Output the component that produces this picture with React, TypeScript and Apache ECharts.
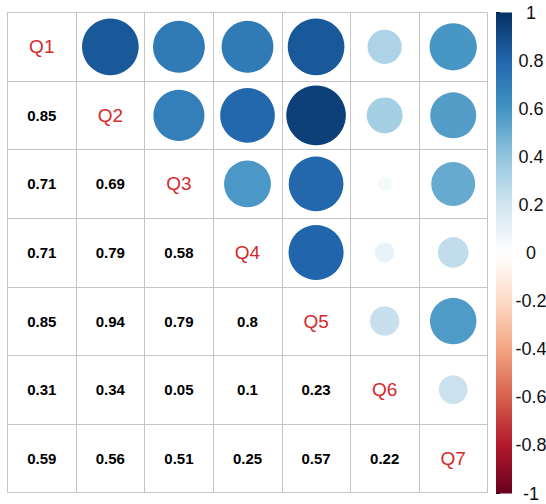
import React, { useEffect, useRef } from "react";
import * as echarts from "echarts";

const labels: string[] = ["Q1", "Q2", "Q3", "Q4", "Q5", "Q6", "Q7"];
// lower-triangle correlation values, row i holds r(Qi, Q1..Q(i-1))
const corrRows: number[][] = [
  [],
  [0.85],
  [0.71, 0.69],
  [0.71, 0.79, 0.58],
  [0.85, 0.94, 0.79, 0.8],
  [0.31, 0.34, 0.05, 0.1, 0.23],
  [0.59, 0.56, 0.51, 0.25, 0.57, 0.22],
];
const colorMin = -1;
const colorMax = 1;
const colorTickStep = 0.2;
const palette: string[] = [
  "#67001F", "#B2182B", "#D6604D", "#F4A582", "#FDDBC7", "#FFFFFF",
  "#D1E5F0", "#92C5DE", "#4393C3", "#2166AC", "#053061",
];

const FONT = 'Arial, "Liberation Sans", sans-serif';

export default function App() {
  const ref = useRef<HTMLDivElement>(null);
  useEffect(() => {
    if (!ref.current) return;
    const chart = echarts.init(ref.current, null, { renderer: "svg" });
    const n = labels.length;
    const circleData: number[][] = [];
    const numberData: number[][] = [];
    const diagData: any[] = [];
    for (let i = 0; i < n; i++) {
      for (let j = 0; j < n; j++) {
        if (j > i) circleData.push([j + 0.5, i + 0.5, corrRows[j][i]]);
        else if (j < i) numberData.push([j + 0.5, i + 0.5, corrRows[i][j]]);
      }
      diagData.push([i + 0.5, i + 0.5, i]);
    }
    const gridLine = { show: true, lineStyle: { color: "#C4C4C4", width: 1 } };
    const hiddenAxis = {
      axisLine: { show: false },
      axisTick: { show: false },
      axisLabel: { show: false },
    };
    const textItem = (text: string, color: string, size: number, weight: string) =>
      (params: any, api: any) => {
        const p = api.coord([api.value(0), api.value(1)]);
        return {
          type: "text",
          x: p[0],
          y: p[1],
          style: {
            text,
            fill: color,
            fontSize: size,
            fontWeight: weight,
            fontFamily: FONT,
            align: "center",
            verticalAlign: "middle",
          },
        };
      };
    // gradient from top (max) to bottom (min), offsets ascending
    const stops = palette
      .slice()
      .reverse()
      .map((c, k) => ({ offset: k / (palette.length - 1), color: c }));
    chart.setOption({
      animation: false,
      backgroundColor: "#ffffff",
      grid: [
        { left: 7.5, top: 12.5, width: 480, height: 480, outerBoundsMode: "none", containLabel: false },
        { left: 496, top: 12.5, width: 16, height: 481, outerBoundsMode: "none", containLabel: false },
      ],
      xAxis: [
        { gridIndex: 0, type: "value", min: 0, max: n, interval: 1, splitLine: gridLine, ...hiddenAxis },
        { gridIndex: 1, type: "value", min: 0, max: 1, splitLine: { show: false }, ...hiddenAxis },
      ],
      yAxis: [
        { gridIndex: 0, type: "value", min: 0, max: n, interval: 1, inverse: true, splitLine: gridLine, ...hiddenAxis },
        {
          gridIndex: 1,
          type: "value",
          min: colorMin,
          max: colorMax,
          interval: colorTickStep,
          position: "right",
          splitLine: { show: false },
          axisLine: { show: true, lineStyle: { color: "#000", width: 1 } },
          axisTick: { show: true, length: 4, lineStyle: { color: "#000", width: 1 } },
          axisLabel: {
            show: true,
            color: "#111",
            fontFamily: FONT,
            fontSize: 18,
            align: "center",
            margin: 19,
            hideOverlap: false,
            formatter: (v: number) => String(Math.round(v * 10) / 10),
          },
        },
      ],
      visualMap: {
        type: "continuous",
        show: false,
        min: colorMin,
        max: colorMax,
        dimension: 2,
        seriesIndex: 0,
        inRange: { color: palette },
      },
      series: [
        {
          type: "scatter",
          xAxisIndex: 0,
          yAxisIndex: 0,
          data: circleData,
          symbol: "circle",
          symbolSize: (v: number[]) => 61.5 * Math.sqrt(Math.abs(v[2])),
          itemStyle: { opacity: 1 },
        },
        {
          type: "custom",
          xAxisIndex: 0,
          yAxisIndex: 0,
          data: numberData,
          renderItem: (params: any, api: any) =>
            textItem(String(numberData[params.dataIndex][2]), "#000", 15, "bold")(params, api),
        },
        {
          type: "custom",
          xAxisIndex: 0,
          yAxisIndex: 0,
          data: diagData,
          renderItem: (params: any, api: any) =>
            textItem(labels[params.dataIndex], "#D42A2A", 19, "normal")(params, api),
        },
        {
          type: "custom",
          xAxisIndex: 1,
          yAxisIndex: 1,
          data: [[0, colorMin, 1, colorMax]],
          encode: { x: [0, 2], y: [1, 3] },
          renderItem: (params: any, api: any) => {
            const p0 = api.coord([api.value(0), api.value(3)]);
            const p1 = api.coord([api.value(2), api.value(1)]);
            return {
              type: "rect",
              shape: { x: p0[0], y: p0[1], width: p1[0] - p0[0], height: p1[1] - p0[1] },
              style: { fill: new echarts.graphic.LinearGradient(0, 0, 0, 1, stops) },
            };
          },
        },
      ],
    });
    return () => chart.dispose();
  }, []);
  return (
    <div
      ref={ref}
      style={{ position: "absolute", left: 0, top: 0, width: 546, height: 504, background: "#fff" }}
    />
  );
}
